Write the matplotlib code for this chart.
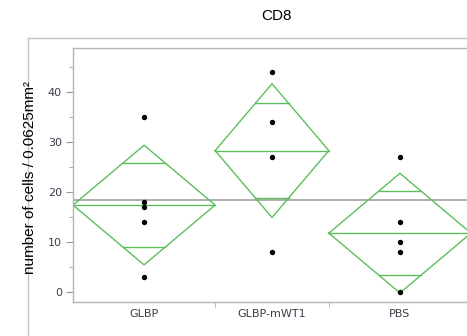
import numpy as np
import matplotlib
matplotlib.use("Agg")
import matplotlib.pyplot as plt
from matplotlib.lines import Line2D

# %%
##--------------------DATA-------------------##
groups = ["GLBP", "GLBP-mWT1", "PBS"]
glbp = [35, 18, 17, 14, 3]
glbp_mwt1 = [44, 34, 27, 8]
pbs = [27, 14, 10, 8, 0]
values = [glbp, glbp_mwt1, pbs]
t_crit = 2.201          # t(0.975, df=11) for the pooled means diamonds
y_ticks = [0, 10, 20, 30, 40]

# %%
##--------------------MEANS DIAMONDS-------------------##
ns = np.array([len(v) for v in values])
means = np.array([np.mean(v) for v in values])
sse = sum(((np.array(v) - np.mean(v)) ** 2).sum() for v in values)
s_pooled = np.sqrt(sse / (ns.sum() - len(values)))
ci = t_crit * s_pooled / np.sqrt(ns)
grand_mean = np.concatenate(values).mean()

edges = np.concatenate([[0], np.cumsum(ns)])
centers = (edges[:-1] + edges[1:]) / 2

W, H = 467, 336
fig = plt.figure(figsize=(W / 100, H / 100), dpi=100)
ax = fig.add_axes([73 / W, 1 - 301.7 / H, 398 / W, 253.4 / H])

green = "#5cbf5c"
ax.axhline(grand_mean, color="#a8a8a8", lw=1.3, zorder=1)
for i in range(len(values)):
    x0, x1, c = edges[i], edges[i + 1], centers[i]
    m, h = means[i], ci[i]
    ax.plot([x0, c, x1, c, x0], [m, m + h, m, m - h, m], color=green, lw=1.0, zorder=2)
    ax.plot([x0, x1], [m, m], color=green, lw=1.0, zorder=2)
    k = np.sqrt(2) / 2
    hw = (1 - k) * (x1 - x0) / 2
    for sgn in (1, -1):
        ax.plot([c - hw, c + hw], [m + sgn * k * h] * 2, color=green, lw=1.0, zorder=2)
    ax.scatter([c] * len(values[i]), values[i], s=15, color="black", zorder=3, linewidths=0)

ax.set_xlim(0, ns.sum())
ax.set_ylim(-1.87, 48.65)
ax.set_yticks(y_ticks)
ax.set_yticks(np.arange(5, 50, 10), minor=True)
ax.set_xticks(centers)
ax.set_xticklabels(groups)
ax.set_xticks(edges[1:-1], minor=True)

for sp in ax.spines.values():
    sp.set_color("#b4b4b4")
    sp.set_linewidth(1.0)
ax.spines["right"].set_visible(False)

lab_col = "#3c3c4c"
ax.tick_params(axis="y", which="major", length=5, color="#999999", labelsize=8, labelcolor=lab_col, pad=3)
ax.tick_params(axis="y", which="minor", length=3, color="#999999")
ax.tick_params(axis="x", which="major", length=0, labelsize=8, labelcolor=lab_col, pad=5)
ax.tick_params(axis="x", which="minor", length=4, color="#b4b4b4")

# outer report frame
fig.add_artist(Line2D([28.3 / W, 1], [1 - 38.3 / H] * 2, transform=fig.transFigure, color="#c4c4c4", lw=1.0))
fig.add_artist(Line2D([28.3 / W] * 2, [0, 1 - 38.3 / H], transform=fig.transFigure, color="#c4c4c4", lw=1.0))

fig.text(277 / W, 1 - 16 / H, "CD8", ha="center", va="center", fontsize=11, family="Liberation Sans")
fig.text(30 / W, 1 - 177 / H, "number of cells / 0.0625mm²", rotation=90, ha="center", va="center",
         fontsize=11, family="Liberation Sans")

fig.savefig("out.png", dpi=100)
